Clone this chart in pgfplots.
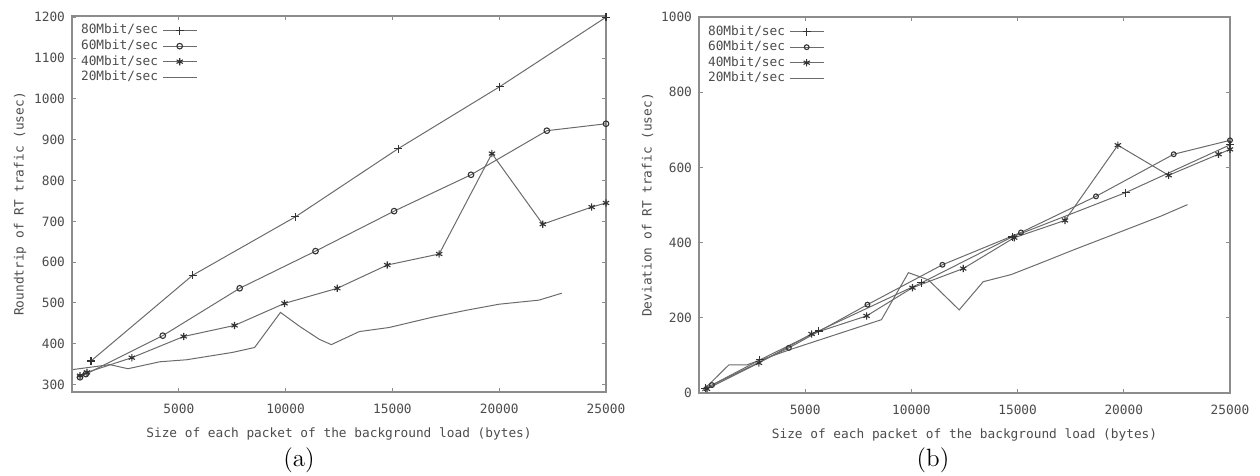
\documentclass[border=0pt]{standalone}
\usepackage{pgfplots}
\pgfplotsset{compat=1.18}
\usepackage{fontspec}
\newfontfamily\monof{DejaVu Sans Mono}
\definecolor{lc}{gray}{0.42}
\definecolor{tc}{gray}{0.3}
\definecolor{ac}{gray}{0.55}
\pgfplotsset{
  gp/.style={
    scale only axis,
    xmin=0, xmax=25000,
    xtick={5000,10000,15000,20000,25000},
    scaled x ticks=false,
    /pgf/number format/assume math mode=true,
    /pgf/number format/set thousands separator={},
    tick label style={font=\monof\fontsize{6.4}{7}\selectfont, text=tc},
    xticklabel style={yshift=-2.5pt},
    label style={font=\monof\fontsize{6.4}{7}\selectfont, text=tc},
    axis line style={ac, line width=0.75pt},
    tick style={ac, line width=0.5pt},
    tick align=inside,
    major tick length=2pt,
    xlabel={Size of each packet of the background load (bytes)},
    xlabel style={yshift=0pt},
    legend plot pos=right,
    legend cell align=right,
    legend style={draw=none, fill=none, font=\monof\fontsize{6.4}{7}\selectfont, text=tc,
      at={(0.005,0.995)}, anchor=north west, row sep=-2.6pt, inner sep=1pt},
    ln/.style={color=lc, line width=0.5pt, mark options={black!80, solid, line width=0.55pt}},
  }
}
\begin{document}
\begin{tikzpicture}
\path[use as bounding box] (0,0) rectangle (630pt,238pt);
\begin{axis}[gp, at={(36pt,42pt)}, anchor=south west, width=267pt, height=188pt,
  ymin=282, ymax=1203, ytick={300,400,...,1200},
  ylabel={Roundtrip of RT trafic (usec)}, ylabel style={yshift=-3pt}]
\addplot[ln, mark=+, mark size=2pt] coordinates {
(890,358) (5650,568) (10460,711) (15270,878) (20030,1030) (25000,1200)};
\addlegendentry{80Mbit/sec}
\addplot[ln, mark=o, mark size=1.4pt] coordinates {
(374,318) (650,326) (4250,420) (7850,536) (11400,627) (15080,725) (18680,814) (22230,922) (25000,939)};
\addlegendentry{60Mbit/sec}
\addplot[ln, mark=asterisk, mark size=1.8pt] coordinates {
(374,322) (700,330) (2800,366) (5230,418) (7610,445) (9950,499) (12420,536) (14760,593) (17190,620) (19660,866) (22040,693) (24330,735) (25000,745)};
\addlegendentry{40Mbit/sec}
\addplot[ln, mark=none] coordinates {
(50,337) (1770,349) (2620,339) (4110,356) (5370,361) (7520,379) (8550,391) (9760,477) (10650,443) (11580,411) (12140,398) (13450,430) (14850,440) (16860,465) (18440,482) (19990,497) (21860,507) (22930,524)};
\addlegendentry{20Mbit/sec}
\end{axis}
\begin{axis}[gp, at={(349.5pt,41.5pt)}, anchor=south west, width=265.5pt, height=188pt,
  ymin=0, ymax=1000, ytick={0,200,...,1000},
  ylabel={Deviation of RT trafic (usec)}, ylabel style={yshift=-3pt}]
\addplot[ln, mark=+, mark size=2pt] coordinates {
(300,12) (2860,88) (5630,165) (10470,293) (14740,415) (20090,533) (25000,660)};
\addlegendentry{80Mbit/sec}
\addplot[ln, mark=o, mark size=1.2pt] coordinates {
(610,21) (4230,120) (7930,235) (11460,341) (15160,427) (18690,523) (22350,635) (25000,672)};
\addlegendentry{60Mbit/sec}
\addplot[ln, mark=asterisk, mark size=1.8pt] coordinates {
(375,11) (2820,80) (5300,157) (7890,205) (10050,280) (12440,331) (14840,413) (17230,459) (19720,659) (22110,579) (24460,635) (25000,648)};
\addlegendentry{40Mbit/sec}
\addplot[ln, mark=none] coordinates {
(150,5) (1410,75) (2260,75) (4370,117) (8590,195) (9860,320) (10800,301) (12250,221) (13380,296) (14700,315) (16100,346) (17650,381) (19720,426) (21730,470) (23000,501)};
\addlegendentry{20Mbit/sec}
\end{axis}
\node[font=\fontsize{12.5}{14}\selectfont] at (149.5pt,8pt) {(a)};
\node[font=\fontsize{12.5}{14}\selectfont] at (466.5pt,8pt) {(b)};
\end{tikzpicture}
\end{document}
